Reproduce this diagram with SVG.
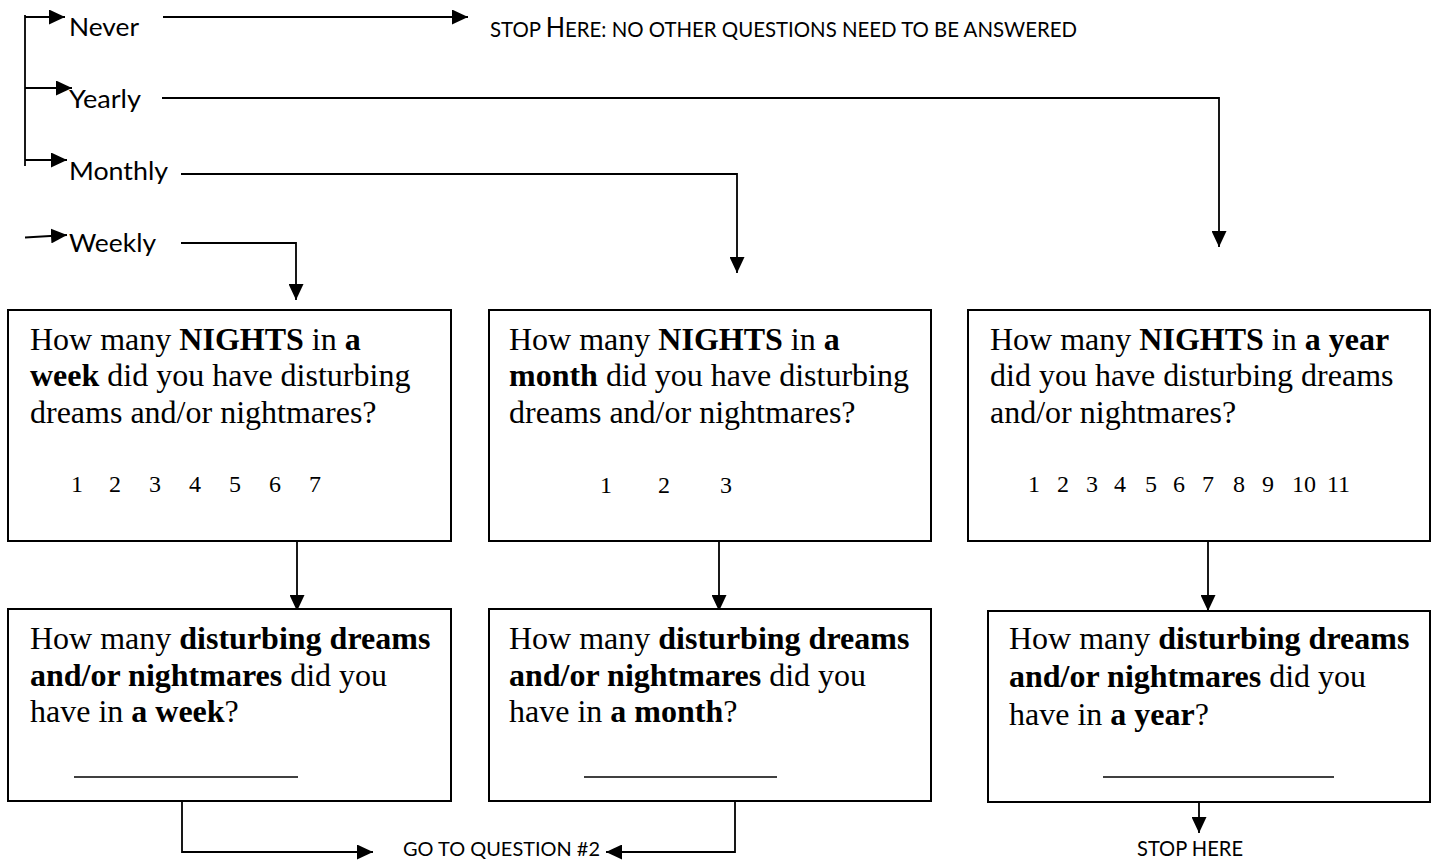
<svg xmlns="http://www.w3.org/2000/svg" width="1437" height="861" viewBox="0 0 1437 861">
<style>
.ln{stroke:#000;stroke-width:1.8;fill:none}
.box{fill:#fff;stroke:#000;stroke-width:2}
.blank{stroke:#000;stroke-width:1.6}
.q{font-family:"Liberation Serif","Times New Roman",serif;font-size:32px;fill:#000}
.b{font-weight:bold}
.n{font-family:"Liberation Serif","Times New Roman",serif;font-size:24px;fill:#000}
.lbl{font-family:Lato,"Open Sans",sans-serif;font-size:25.5px;fill:#000}
.sc{font-family:Lato,"Open Sans",sans-serif;font-size:21px;fill:#000}
</style>
<defs>
<marker id="ah" viewBox="0 0 16 15" refX="16" refY="7.5" markerWidth="16" markerHeight="15" markerUnits="userSpaceOnUse" orient="auto">
<path d="M0,0 L16,7.5 L0,15 z" fill="#000"/>
</marker>
</defs>

<g id="connectors">
<line class="ln" x1="25" y1="15" x2="25" y2="166"/>
<line class="ln" x1="25" y1="17" x2="65" y2="17" marker-end="url(#ah)"/>
<line class="ln" x1="25" y1="88" x2="72" y2="88" marker-end="url(#ah)"/>
<line class="ln" x1="25" y1="160" x2="67" y2="160" marker-end="url(#ah)"/>
<line class="ln" x1="25" y1="237.5" x2="67" y2="235" marker-end="url(#ah)"/>
<line class="ln" x1="163" y1="17" x2="468" y2="17" marker-end="url(#ah)"/>
<polyline class="ln" points="162,98 1219,98 1219,247" marker-end="url(#ah)"/>
<polyline class="ln" points="181,174 737,174 737,273" marker-end="url(#ah)"/>
<polyline class="ln" points="181,243 296,243 296,300" marker-end="url(#ah)"/>
<line class="ln" x1="297" y1="535" x2="297" y2="611" marker-end="url(#ah)"/>
<line class="ln" x1="719" y1="531" x2="719" y2="611" marker-end="url(#ah)"/>
<line class="ln" x1="1208" y1="536" x2="1208" y2="611" marker-end="url(#ah)"/>
<polyline class="ln" points="182,796 182,852 373,852" marker-end="url(#ah)"/>
<polyline class="ln" points="735,795 735,852 606,852" marker-end="url(#ah)"/>
<line class="ln" x1="1199" y1="796" x2="1199" y2="833" marker-end="url(#ah)"/>
</g>

<g id="opt-never"><text class="lbl" x="69" y="36" textLength="70" lengthAdjust="spacingAndGlyphs">Never</text></g>
<g id="opt-yearly"><text class="lbl" x="69" y="108" textLength="72" lengthAdjust="spacingAndGlyphs">Yearly</text></g>
<g id="opt-monthly"><text class="lbl" x="69" y="180" textLength="99" lengthAdjust="spacingAndGlyphs">Monthly</text></g>
<g id="opt-weekly"><text class="lbl" x="69" y="252" textLength="87" lengthAdjust="spacingAndGlyphs">Weekly</text></g>

<g id="stop-top"><text class="sc" x="490" y="37" textLength="587" lengthAdjust="spacingAndGlyphs">STOP <tspan style="font-size:26px">H</tspan>ERE: NO OTHER QUESTIONS NEED TO BE ANSWERED</text></g>

<g id="q-week-nights">
<rect class="box" x="8" y="310" width="443" height="231"/>
<text class="q" x="30" y="350">How many <tspan class="b">NIGHTS</tspan> in <tspan class="b">a</tspan></text>
<text class="q" x="30" y="386"><tspan class="b">week</tspan> did you have disturbing</text>
<text class="q" x="30" y="423">dreams and/or nightmares?</text>
<text class="n" y="492"><tspan x="71">1</tspan> <tspan x="109">2</tspan> <tspan x="149">3</tspan> <tspan x="189">4</tspan> <tspan x="229">5</tspan> <tspan x="269">6</tspan> <tspan x="309">7</tspan></text>
</g>

<g id="q-month-nights">
<rect class="box" x="489" y="310" width="442" height="231"/>
<text class="q" x="509" y="350">How many <tspan class="b">NIGHTS</tspan> in <tspan class="b">a</tspan></text>
<text class="q" x="509" y="386"><tspan class="b">month</tspan> did you have disturbing</text>
<text class="q" x="509" y="423">dreams and/or nightmares?</text>
<text class="n" y="493"><tspan x="600">1</tspan> <tspan x="658">2</tspan> <tspan x="720">3</tspan></text>
</g>

<g id="q-year-nights">
<rect class="box" x="968" y="310" width="462" height="231"/>
<text class="q" x="990" y="350">How many <tspan class="b">NIGHTS</tspan> in <tspan class="b">a year</tspan></text>
<text class="q" x="990" y="386">did you have disturbing dreams</text>
<text class="q" x="990" y="423">and/or nightmares?</text>
<text class="n" y="492"><tspan x="1028">1</tspan> <tspan x="1057">2</tspan> <tspan x="1086">3</tspan> <tspan x="1114">4</tspan> <tspan x="1145">5</tspan> <tspan x="1173">6</tspan> <tspan x="1202">7</tspan> <tspan x="1233">8</tspan> <tspan x="1262">9</tspan> <tspan x="1292">10</tspan> <tspan x="1327">11</tspan></text>
</g>

<g id="q-week-dreams">
<rect class="box" x="8" y="609" width="443" height="192"/>
<text class="q" x="30" y="649">How many <tspan class="b">disturbing dreams</tspan></text>
<text class="q" x="30" y="686"><tspan class="b">and/or nightmares</tspan> did you</text>
<text class="q" x="30" y="722">have in <tspan class="b">a week</tspan>?</text>
<line class="blank" x1="74" y1="777" x2="298" y2="777"/>
</g>

<g id="q-month-dreams">
<rect class="box" x="489" y="609" width="442" height="192"/>
<text class="q" x="509" y="649">How many <tspan class="b">disturbing dreams</tspan></text>
<text class="q" x="509" y="686"><tspan class="b">and/or nightmares</tspan> did you</text>
<text class="q" x="509" y="722">have in <tspan class="b">a month</tspan>?</text>
<line class="blank" x1="584" y1="777" x2="777" y2="777"/>
</g>

<g id="q-year-dreams">
<rect class="box" x="988" y="611" width="442" height="191"/>
<text class="q" x="1009" y="649">How many <tspan class="b">disturbing dreams</tspan></text>
<text class="q" x="1009" y="687"><tspan class="b">and/or nightmares</tspan> did you</text>
<text class="q" x="1009" y="725">have in <tspan class="b">a year</tspan>?</text>
<line class="blank" x1="1103" y1="777" x2="1334" y2="777"/>
</g>

<g id="goto-q2"><text class="sc" style="font-size:19.5px" x="403" y="856" textLength="197" lengthAdjust="spacingAndGlyphs">GO TO QUESTION #2</text></g>
<g id="stop-bottom"><text class="sc" style="font-size:20.5px" x="1137" y="856" textLength="106" lengthAdjust="spacingAndGlyphs">STOP HERE</text></g>
</svg>
